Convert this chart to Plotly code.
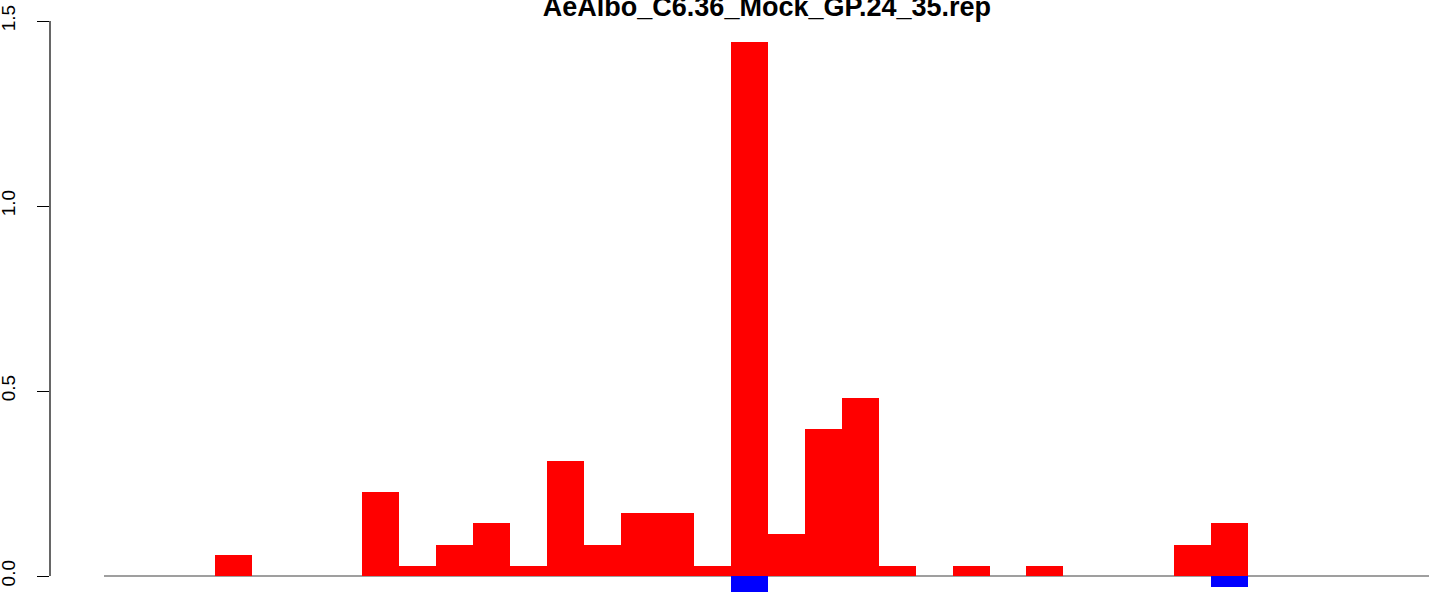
import plotly.graph_objects as go

# ---- data ----
positions = list(range(36))
plus_values = [0, 0, 0, 0.057, 0, 0, 0, 0.227, 0.028, 0.085, 0.142, 0.028,
               0.311, 0.085, 0.170, 0.170, 0.028, 1.443, 0.113, 0.396, 0.481,
               0.028, 0, 0.028, 0, 0.028, 0, 0, 0, 0.085, 0.142, 0, 0, 0, 0, 0]
minus_values = [0] * 17 + [-0.042] + [0] * 12 + [-0.030] + [0] * 5
y_ticks = [0.0, 0.5, 1.0, 1.5]
title_text = "AeAlbo_C6.36_Mock_GP.24_35.rep"

fig = go.Figure()
fig.add_trace(go.Bar(x=positions, y=plus_values, width=1,
                     marker=dict(color="#FF0000", line=dict(width=0)),
                     showlegend=False, hoverinfo="x+y"))
fig.add_trace(go.Bar(x=positions, y=minus_values, width=1,
                     marker=dict(color="#0000FF", line=dict(width=0)),
                     showlegend=False, hoverinfo="x+y"))

# baseline
fig.add_shape(type="line", xref="x", yref="y", x0=positions[0] - 0.5,
              x1=positions[-1] + 0.5, y0=0, y1=0,
              line=dict(color="#7F7F7F", width=1.5), layer="below")
# y axis line (only spanning tick range, R style)
fig.add_shape(type="line", xref="paper", yref="y", x0=0, x1=0,
              y0=y_ticks[0], y1=y_ticks[-1],
              line=dict(color="black", width=1.2))

fig.update_layout(
    width=1429, height=592,
    margin=dict(l=50, r=0, t=21, b=0, autoexpand=False),
    paper_bgcolor="white", plot_bgcolor="white",
    barmode="relative", bargap=0,
    title=dict(text="<b>" + title_text + "</b>", x=0.5367, xanchor="center",
               y=0.9889, yanchor="middle", yref="container",
               font=dict(family="Liberation Sans, Arial, sans-serif",
                         size=27, color="black")),
    font=dict(family="Liberation Sans, Arial, sans-serif", color="black"),
    xaxis=dict(range=[-1.963, 35.41], showticklabels=False, showgrid=False,
               zeroline=False, showline=False, ticks="", automargin=False),
    yaxis=dict(range=[-0.0432, 1.5], tickvals=y_ticks, tickformat=".1f",
               tickangle=-90, ticks="outside", ticklen=12, tickwidth=1.2,
               tickcolor="black", showgrid=False, zeroline=False,
               showline=False, tickfont=dict(size=19, color="black"),
               ticklabelstandoff=14, automargin=False),
)

fig.write_html("out.html",
               config={"displayModeBar": False},
               post_script="document.body.style.margin='0';"
                           "document.body.style.overflow='hidden';")
